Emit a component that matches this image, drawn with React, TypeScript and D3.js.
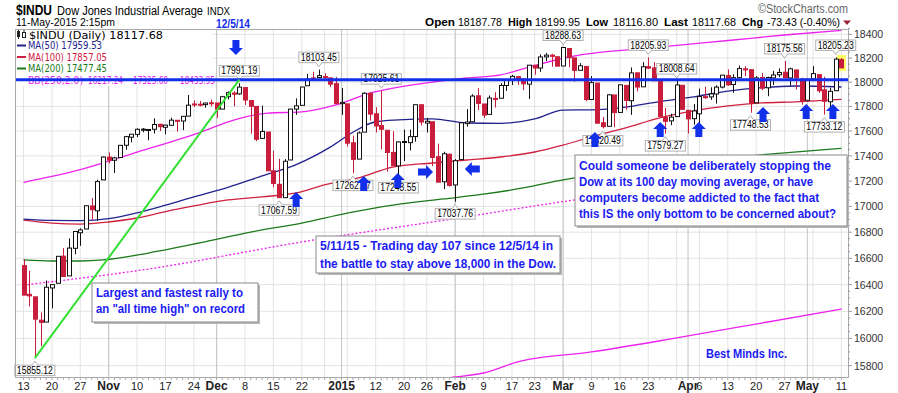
import React from 'react';
import * as d3 from 'd3';

// trading days shown, Oct 13 2014 .. May 11 2015
const dates = [
  '10/13','10/14','10/15','10/16','10/17','10/20','10/21','10/22','10/23','10/24','10/27','10/28','10/29','10/30','10/31',
  '11/03','11/04','11/05','11/06','11/07','11/10','11/11','11/12','11/13','11/14','11/17','11/18','11/19','11/20','11/21','11/24','11/25','11/26','11/28',
  '12/01','12/02','12/03','12/04','12/05','12/08','12/09','12/10','12/11','12/12','12/15','12/16','12/17','12/18','12/19','12/22','12/23','12/24','12/26','12/29','12/30','12/31',
  '01/02','01/05','01/06','01/07','01/08','01/09','01/12','01/13','01/14','01/15','01/16','01/20','01/21','01/22','01/23','01/26','01/27','01/28','01/29','01/30',
  '02/02','02/03','02/04','02/05','02/06','02/09','02/10','02/11','02/12','02/13','02/17','02/18','02/19','02/20','02/23','02/24','02/25','02/26','02/27',
  '03/02','03/03','03/04','03/05','03/06','03/09','03/10','03/11','03/12','03/13','03/16','03/17','03/18','03/19','03/20','03/23','03/24','03/25','03/26','03/27','03/30','03/31',
  '04/01','04/02','04/06','04/07','04/08','04/09','04/10','04/13','04/14','04/15','04/16','04/17','04/20','04/21','04/22','04/23','04/24','04/27','04/28','04/29','04/30',
  '05/01','05/04','05/05','05/06','05/07','05/08','05/11',
];

const opens = [
  16544,16327,16308,16134,16120,16375,16410,16616,16466,16676,16796,16825,17004,16966,17209,
  17390,17365,17387,17485,17550,17573,17613,17610,17614,17654,17630,17646,17687,17681,17721,17820,17818,17815,17830,
  17828,17778,17880,17910,17903,17955,17848,17800,17540,17592,17281,17174,17069,17367,17778,17809,17970,18035,18038,18046,18035,17987,
  17823,17821,17505,17374,17591,17908,17740,17644,17606,17428,17320,17512,17506,17555,17814,17664,17675,17393,17194,17413,
  17169,17370,17660,17675,17887,17820,17735,17866,17867,17972,18018,18045,18026,17983,18140,18117,18210,18225,18211,
  18134,18280,18202,18098,18130,17857,17992,17667,17638,17894,17751,17973,17847,18077,17961,18128,18118,18015,17710,17682,17717,17974,
  17768,17700,17740,17880,17878,17902,17959,18055,17980,18037,18110,18103,17830,18039,17953,18035,18061,18082,18035,18101,18025,
  17850,18027,18062,17936,17838,17929,18187.78,
];
const highs = [
  16591,16505,16308,16192,16431,16400,16615,16678,16752,16805,16830,17006,17066,17210,17395,
  17428,17393,17485,17561,17576,17622,17624,17615,17703,17658,17651,17708,17687,17720,17894,17849,17845,17830,17856,
  17828,17887,17924,17925,17991.19,17955,17848,17800,17807,17592,17441,17376,17374,17778,17866,17961,18069,18086,18103.45,18073,18035,18043,
  17951,17821,17562,17597,17916,17917,17793,17925.61,17606,17598,17517,17611,17611,17813,17814,17706,17675,17498,17433,17419,
  17374,17666,17778,17900,17951,17820,17890,17917,17991,18021,18060,18045,18035,18143,18140,18231,18244,18235,18211,
  18288.63,18280,18202,18158,18130,18050,17992,17715,17900,17894,17977,17973,18122,18077,18166,18205.93,18167,18016,17788,17740,18008.64,17974,
  17768,17820,17947,17961,17957,17974,18058,18105,18065,18138,18132,18103,18049,18076,18045,18094,18114,18175.56,18120,18101,18036,
  18025,18133,18062,18045,17953,18205.23,18199.95,
];
const lows = [
  16321,16236,15855.12,15942,16120,16222,16410,16459,16466,16630,16695,16825,16892,16888,17209,
  17339,17264,17387,17449,17509,17550,17590,17525,17580,17600,17573,17646,17595,17607,17721,17795,17800,17790,17800,
  17705,17778,17857,17801,17896,17812,17578,17518,17540,17280,17150,17067.59,17069,17367,17731,17809,17970,18027,18038,18021,17959,17820,
  17731,17475,17262.37,17374,17591,17685,17588,17451,17273,17319,17243.55,17359,17443,17514,17644,17588,17318,17186,17136,17156,
  17037.76,17370,17635,17675,17771,17705,17735,17791,17867,17927,17976,17977,17934,17861,18061,18085,18176,18128,18132,
  18134,18123,18004,18098,17842,17857,17662,17620.49,17638,17630,17751,17772,17731,17924,17961,18110,18010,17718,17579.27,17647,17717,17775,
  17580,17651,17602,17861,17854,17823,17948,17970,17912,18037,18050,17748.53,17830,17934,17884,17976,18041,18030,17970,17938,17814,
  17850,18027,17911,17733.12,17794,17929,18116.80,
];
const closes = [
  16321.07,16315.19,16141.74,16117.24,16380.41,16399.67,16614.81,16461.32,16677.90,16805.41,16817.94,17005.75,16974.31,17195.42,17390.52,
  17366.24,17383.84,17484.53,17554.47,17573.93,17613.74,17614.90,17612.20,17652.79,17634.74,17647.75,17687.82,17685.73,17719.00,17810.06,17817.90,17814.94,17827.75,17828.24,
  17776.80,17879.55,17912.62,17900.10,17958.79,17852.48,17801.20,17533.15,17596.34,17280.83,17180.84,17068.87,17356.87,17778.15,17804.80,17959.44,18024.17,18030.21,18053.71,18038.23,17983.07,17823.07,
  17832.99,17501.65,17371.64,17584.52,17907.87,17737.37,17640.84,17613.68,17427.09,17320.71,17511.57,17515.23,17554.28,17813.98,17672.60,17678.70,17387.21,17191.37,17416.85,17164.95,
  17361.04,17666.40,17673.02,17884.88,17824.29,17729.21,17868.76,17862.14,17972.38,18019.35,18047.58,18029.85,17985.77,18140.44,18116.84,18209.19,18224.57,18214.42,18132.70,
  18288.63,18203.37,18096.90,18135.72,17856.78,17995.72,17662.94,17635.39,17895.22,17749.31,17977.42,17849.08,18076.19,17959.03,18127.65,18116.04,18011.14,17718.54,17678.23,17712.66,17976.31,17776.12,
  17698.18,17763.24,17880.85,17875.42,17902.51,17958.73,18057.65,17977.04,18036.70,18112.61,18105.77,17826.30,18034.93,17949.59,18038.27,18058.69,18080.14,18037.97,18110.14,18035.53,17840.52,
  18024.06,18070.40,17928.20,17841.98,17924.06,18191.11,18117.68,
];

// indicators (trading-day index, value)
const ma50Idx = [0, 5, 10, 15, 20, 25, 30, 36, 42, 48, 54, 58, 62, 66, 72, 78, 84, 90, 95, 100, 106, 112, 118, 124, 130, 136, 144];
const ma50Val = [16902, 16892, 16890, 16905, 16950, 17010, 17075, 17150, 17240, 17330, 17470, 17590, 17675, 17690, 17698, 17665, 17662, 17698, 17770, 17772, 17795, 17840, 17878, 17926, 17955, 17968, 17959.53];
const ma100Idx = [0, 5, 10, 15, 20, 25, 30, 36, 42, 48, 53, 59, 65, 72, 78, 84, 90, 95, 100, 106, 112, 118, 124, 130, 136, 144];
const ma100Val = [16894, 16871, 16863, 16879, 16910, 16960, 17004, 17051, 17075, 17106, 17169, 17224, 17311, 17343, 17367, 17391, 17431, 17487, 17552, 17625, 17707, 17764, 17804, 17829, 17837, 17857.05];
const ma200Idx = [0, 5, 10, 14, 22, 31, 40, 49, 57, 65, 74, 80, 88, 95, 103, 110, 118, 126, 134, 144];
const ma200Val = [16587, 16579, 16579, 16587, 16640, 16717, 16801, 16871, 16948, 17011, 17059, 17090, 17145, 17209, 17264, 17304, 17352, 17392, 17424, 17460];
const bbUpIdx = [0, 10, 20, 31, 37, 43, 49, 55, 61, 66, 72, 78, 84, 89, 96, 110, 125, 134, 144];
const bbUpVal = [17190, 17290, 17430, 17587, 17689, 17746, 17755, 17812, 17910, 17959, 18001, 18034, 18060, 18125, 18209, 18284, 18352, 18394, 18433.95];
const bbMidIdx = [0, 22, 49, 76, 97, 120, 144];
const bbMidVal = [16397, 16518, 16725, 16906, 17051, 17184, 17325.6];
const bbLowIdx = [62, 70, 76, 81, 87, 100, 115, 130, 144];
const bbLowVal = [15640, 15690, 15718, 15747, 15827, 15900, 16003, 16113, 16217.24];

// annotations
const labelIdx = [2, 38, 45, 52, 58, 63, 66, 76, 95, 102, 110, 113, 115, 128, 134, 141, 143];
const labelSide = ['low', 'high', 'low', 'high', 'low', 'high', 'low', 'low', 'high', 'low', 'high', 'low', 'high', 'low', 'high', 'low', 'high'];
const upArrowIdx = [48.0, 59.9, 65.9, 100.6, 112.1, 118.9, 130.2, 137.8, 142.5];
const upArrowVal = [17113, 17240, 17263, 17592, 17673, 17673, 17795, 17820, 17820];
const rightArrowIdx = [72.1];
const rightArrowVal = [17271];
const leftArrowIdx = [77.7];
const leftArrowVal = [17295];
const downArrowIdx = [37.4];
const downArrowVal = [18226];
const trendIdx = [2, 38];
const trendVal = [15855.12, 18020];
const resistance = 18020;

const yTicks = d3.range(15800, 18401, 200);
const tickDates = ['10/13','10/20','10/27','11/03','11/10','11/17','11/24','12/01','12/08','12/15','12/22','01/02','01/12','01/20','01/26','02/02','02/09','02/17','02/23','03/02','03/09','03/16','03/23','04/01','04/06','04/13','04/20','04/27','05/01','05/11'];
const tickText = ['13','20','27','Nov','10','17','24','Dec','8','15','22','2015','12','20','26','Feb','9','17','23','Mar','9','16','23','Apr','6','13','20','27','May','11'];

const RED = '#c81e3c';
const NAVY = '#22228e';
const CRIMSON = '#d0203f';
const GREEN = '#1b7a1b';
const MAGENTA = '#ee22ee';
const BLUE = '#1230ea';
const TXT = '#1b1bf2';
const SANS = '"Liberation Sans", Arial, sans-serif';
const VSANS = '"DejaVu Sans", Verdana, sans-serif';

const L = 15, R = 848, T = 29, B = 377;

const toDate = (s: string) => {
  const [m, d] = s.split('/').map(Number);
  return new Date(m >= 10 ? 2014 : 2015, m - 1, d);
};

const Arrow = ({ px, py, dir }: { px: number; py: number; dir: string }) => {
  // tip at (px, py)
  let p = '';
  if (dir === 'up') p = `M${px},${py} l7,7 h-3.5 v8 h-7 v-8 h-3.5 z`;
  if (dir === 'down') p = `M${px},${py} l7,-7 h-3.5 v-8 h-7 v8 h-3.5 z`;
  if (dir === 'right') p = `M${px},${py} l-7,-7 v3.5 h-8 v7 h8 v3.5 z`;
  if (dir === 'left') p = `M${px},${py} l7,-7 v3.5 h8 v7 h-8 v3.5 z`;
  return <path d={p} fill={BLUE} />;
};

const NoteBox = ({ x0, y0, w, h, lines, widths, lh, first }: any) => (
  <g>
    <rect x={x0 + 2} y={y0 + 2} width={w} height={h} fill="#b8b8b8" />
    <rect x={x0} y={y0} width={w} height={h} fill="#fff" stroke="#8a8a8a" />
    {lines.map((t: string, i: number) => (
      <text key={i} x={x0 + 4} y={y0 + first + i * lh} fontFamily={SANS} fontWeight="bold" fontSize={12.5}
        fill={TXT} textLength={widths[i]} lengthAdjust="spacingAndGlyphs">{t}</text>
    ))}
  </g>
);

export default function App() {
  const x = d3.scaleLinear().domain([0, dates.length - 1]).range([23.5, 841.4]);
  const y = d3.scaleLog().domain([15800, 18400]).range([365.7, 34.3]);

  const dObj = dates.map(toDate);
  const weekStarts: number[] = [];
  const monthStarts: number[] = [];
  dObj.forEach((d, i) => {
    const p = dObj[i - 1];
    if (i === 0 || d.getDay() < p.getDay() || +d - +p > 3 * 864e5) weekStarts.push(i);
    if (i > 0 && d.getMonth() !== p.getMonth()) monthStarts.push(i);
  });

  const line = (idx: number[], val: number[]) =>
    d3.line<number>().x((_, i) => x(idx[i])).y((v) => y(v)).curve(d3.curveMonotoneX)(val) || '';

  const yMinor = d3.range(15800, 18451, 50);

  return (
    <svg width={898} height={393} style={{ position: 'absolute', left: 0, top: 0, background: '#fff' }}>
      <defs>
        <clipPath id="plotClip"><rect x={L} y={T} width={R - L} height={B - T} /></clipPath>
      </defs>
      <rect x={0} y={0} width={898} height={393} fill="#fff" />

      {/* header */}
      <text x={16} y={15} fontFamily={SANS} fontWeight="bold" fontSize={14} textLength={36} lengthAdjust="spacingAndGlyphs">$INDU</text>
      <text x={57} y={15} fontFamily={SANS} fontSize={12.5} textLength={146} lengthAdjust="spacingAndGlyphs">Dow Jones Industrial Average</text>
      <text x={207} y={15} fontFamily={SANS} fontSize={11} textLength={23} lengthAdjust="spacingAndGlyphs">INDX</text>
      <text x={16} y={26} fontFamily={SANS} fontSize={11} textLength={99} lengthAdjust="spacingAndGlyphs">11-May-2015 2:15pm</text>
      <text x={216} y={27.5} fontFamily={SANS} fontWeight="bold" fontSize={12} fill={BLUE} textLength={34} lengthAdjust="spacingAndGlyphs">12/5/14</text>
      <text x={758} y={13} fontFamily={SANS} fontSize={12} fill="#666" textLength={90} lengthAdjust="spacingAndGlyphs">©StockCharts.com</text>
      <g fontFamily={SANS} fontSize={11}>
        <text x={425} y={26} fontWeight="bold" textLength={30} lengthAdjust="spacingAndGlyphs">Open</text>
        <text x={458} y={26} textLength={44} lengthAdjust="spacingAndGlyphs">18187.78</text>
        <text x={508} y={26} fontWeight="bold" textLength={24} lengthAdjust="spacingAndGlyphs">High</text>
        <text x={535} y={26} textLength={45} lengthAdjust="spacingAndGlyphs">18199.95</text>
        <text x={586} y={26} fontWeight="bold" textLength={22} lengthAdjust="spacingAndGlyphs">Low</text>
        <text x={613} y={26} textLength={45} lengthAdjust="spacingAndGlyphs">18116.80</text>
        <text x={664} y={26} fontWeight="bold" textLength={24} lengthAdjust="spacingAndGlyphs">Last</text>
        <text x={692} y={26} textLength={44} lengthAdjust="spacingAndGlyphs">18117.68</text>
        <text x={742} y={26} fontWeight="bold" textLength={21} lengthAdjust="spacingAndGlyphs">Chg</text>
        <text x={767} y={26} textLength={73} lengthAdjust="spacingAndGlyphs">-73.43 (-0.40%)</text>
      </g>
      <path d="M843,20.5 h8 l-4,4.5 z" fill="#992233" />

      {/* grid */}
      {yTicks.map((t) => (
        <line key={'h' + t} x1={L} x2={R} y1={y(t)} y2={y(t)} stroke="#e4e4e4" />
      ))}
      {weekStarts.map((i) => (
        <line key={'w' + i} x1={x(i)} x2={x(i)} y1={T} y2={B} stroke="#e4e4e4" />
      ))}
      {monthStarts.map((i) => (
        <line key={'m' + i} x1={x(i)} x2={x(i)} y1={T} y2={B} stroke="#c4c4c4" />
      ))}

      <g clipPath="url(#plotClip)" fill="none">
        <path d={line(bbUpIdx, bbUpVal)} stroke={MAGENTA} strokeWidth={1.3} />
        <path d={line(bbMidIdx, bbMidVal)} stroke={MAGENTA} strokeWidth={1.3} strokeDasharray="2,2" />
        <path d={line(bbLowIdx, bbLowVal)} stroke={MAGENTA} strokeWidth={1.3} />
        <path d={line(ma200Idx, ma200Val)} stroke={GREEN} strokeWidth={1.3} />
        <path d={line(ma100Idx, ma100Val)} stroke={CRIMSON} strokeWidth={1.3} />
        <path d={line(ma50Idx, ma50Val)} stroke={NAVY} strokeWidth={1.3} />
      </g>

      {/* last bar highlight */}
      <rect x={x(dates.length - 1) - 4.5} y={y(highs[dates.length - 1]) - 3} width={9}
        height={y(lows[dates.length - 1]) - y(highs[dates.length - 1]) + 6} fill="#ffff60" />

      {/* candles */}
      {dates.map((d, i) => {
        const o = opens[i], c = closes[i];
        const up = c >= o;
        const col = up ? '#111' : RED;
        const cx = Math.round(x(i)) + 0.5;
        const yt = y(Math.max(o, c)), yb = y(Math.min(o, c));
        return (
          <g key={d}>
            <line x1={cx} x2={cx} y1={y(highs[i])} y2={y(lows[i])} stroke={col} />
            <rect x={cx - 2} y={yt} width={4} height={Math.max(1, yb - yt)} fill={up ? '#fff' : RED} stroke={col} />
          </g>
        );
      })}

      {/* legend */}
      <rect x={L + 1} y={T + 1} width={196} height={56} fill="#fff" />
      <g fontFamily={VSANS} fontSize={10}>
        <rect x={17} y={31} width={3} height={6} fill="#222" />
        <line x1={18.5} x2={18.5} y1={30} y2={39} stroke="#222" />
        <rect x={22.5} y={32.5} width={3} height={5} fill="#fff" stroke="#222" />
        <line x1={24} x2={24} y1={30} y2={32.5} stroke="#222" />
        <text x={29} y={38.5} textLength={134} lengthAdjust="spacingAndGlyphs">$INDU (Daily) 18117.68</text>
        <line x1={17} x2={26} y1={45.5} y2={45.5} stroke={NAVY} strokeWidth={2} />
        <text x={28} y={49} fill={NAVY} textLength={74} lengthAdjust="spacingAndGlyphs">MA(50) 17959.53</text>
        <line x1={17} x2={26} y1={57} y2={57} stroke={CRIMSON} strokeWidth={2} />
        <text x={28} y={60.5} fill={CRIMSON} textLength={79} lengthAdjust="spacingAndGlyphs">MA(100) 17857.05</text>
        <line x1={17} x2={26} y1={68.5} y2={68.5} stroke={GREEN} strokeWidth={2} />
        <text x={28} y={72} fill={GREEN} textLength={79} lengthAdjust="spacingAndGlyphs">MA(200) 17477.45</text>
        <line x1={17} x2={26} y1={80} y2={80} stroke={MAGENTA} strokeWidth={2} />
        <text x={28} y={83.5} fill={MAGENTA} textLength={55} lengthAdjust="spacingAndGlyphs">BB(250,2.0)</text>
        <text x={88} y={83.5} fill={MAGENTA} textLength={35} lengthAdjust="spacingAndGlyphs">16217.24</text>
        <text x={133} y={83.5} fill={MAGENTA} textLength={35} lengthAdjust="spacingAndGlyphs">17325.60</text>
        <text x={180} y={83.5} fill={MAGENTA} textLength={35} lengthAdjust="spacingAndGlyphs">18433.95</text>
      </g>

      {/* value call-outs */}
      {labelIdx.map((i, k) => {
        const hi = labelSide[k] === 'high';
        const v = hi ? highs[i] : lows[i];
        const cx = x(i);
        const py = y(v);
        const bw = 40, bh = 10.5;
        const by = hi ? py - 7 - bh : py + 7;
        const tipY = hi ? py - 3 : py + 3;
        const edge = hi ? by + bh : by;
        return (
          <g key={'lab' + i}>
            <rect x={cx - bw / 2} y={by} width={bw} height={bh} fill="#fff" stroke="#b0b0b0" />
            <path d={`M${cx - 3},${edge} L${cx},${tipY} L${cx + 3},${edge}`} fill="#fff" stroke="#b0b0b0" />
            <line x1={cx - 2.5} x2={cx + 2.5} y1={edge} y2={edge} stroke="#fff" />
            <text x={cx} y={by + 8.7} textAnchor="middle" fontFamily={SANS} fontSize={10} textLength={36}
              lengthAdjust="spacingAndGlyphs">{v.toFixed(2)}</text>
          </g>
        );
      })}

      {/* resistance line and trend line */}
      <line x1={L} x2={R} y1={y(resistance)} y2={y(resistance)} stroke={BLUE} strokeWidth={3} />
      <line x1={x(trendIdx[0])} y1={y(trendVal[0])} x2={x(trendIdx[1])} y2={y(trendVal[1])} stroke="#33e033" strokeWidth={2} />

      {/* arrows */}
      {upArrowIdx.map((i, k) => <Arrow key={'u' + k} px={x(i)} py={y(upArrowVal[k])} dir="up" />)}
      {downArrowIdx.map((i, k) => <Arrow key={'d' + k} px={x(i)} py={y(downArrowVal[k])} dir="down" />)}
      {rightArrowIdx.map((i, k) => <Arrow key={'r' + k} px={x(i)} py={y(rightArrowVal[k])} dir="right" />)}
      {leftArrowIdx.map((i, k) => <Arrow key={'l' + k} px={x(i)} py={y(leftArrowVal[k])} dir="left" />)}

      {/* frame */}
      <rect x={L + 0.5} y={T + 0.5} width={R - L} height={B - T} fill="none" stroke="#a8a8a8" />

      {/* y axis */}
      {yMinor.map((t) => (
        <line key={'ym' + t} x1={R} x2={R + (t % 200 === 0 ? 4 : 2)} y1={y(t)} y2={y(t)} stroke="#999" />
      ))}
      {yTicks.map((t) => (
        <text key={'yl' + t} x={854} y={y(t) + 4} fontFamily={SANS} fontSize={10.5} fill="#333">{t}</text>
      ))}

      {/* x axis */}
      {dates.map((d, i) => (
        <line key={'xt' + d} x1={x(i)} x2={x(i)} y1={B + 1} y2={B + 3} stroke="#aaa" />
      ))}
      {tickDates.map((d, k) => {
        const i = dates.indexOf(d);
        const bold = isNaN(Number(tickText[k])) || tickText[k] === '2015';
        return (
          <text key={'xl' + d} x={x(i)} y={390} textAnchor="middle" fontFamily={SANS}
            fontSize={bold ? 12 : 11} fontWeight={bold ? 'bold' : 'normal'} fill="#222">{tickText[k]}</text>
        );
      })}

      {/* notes */}
      <NoteBox x0={92} y0={283} w={166} h={39} first={13.5} lh={16.5}
        lines={['Largest and fastest rally to', 'an "all time high" on record']} widths={[147, 149]} />
      <NoteBox x0={316} y0={236} w={244} h={37} first={14} lh={17.5}
        lines={['5/11/15 - Trading day 107 since 12/5/14 in', 'the battle to stay above 18,000 in the Dow.']} widths={[233, 236]} />
      <NoteBox x0={575} y0={155} w={272} h={71} first={14.5} lh={16.3}
        lines={['Could someone be deliberately stopping the', 'Dow at its 100 day moving average, or have', 'computers become addicted to the fact that', 'this IS the only bottom to be concerned about?']}
        widths={[252, 234, 240, 257]} />
      <text x={706} y={358} fontFamily={SANS} fontWeight="bold" fontSize={12} fill={TXT} textLength={81}
        lengthAdjust="spacingAndGlyphs">Best Minds Inc.</text>
    </svg>
  );
}
